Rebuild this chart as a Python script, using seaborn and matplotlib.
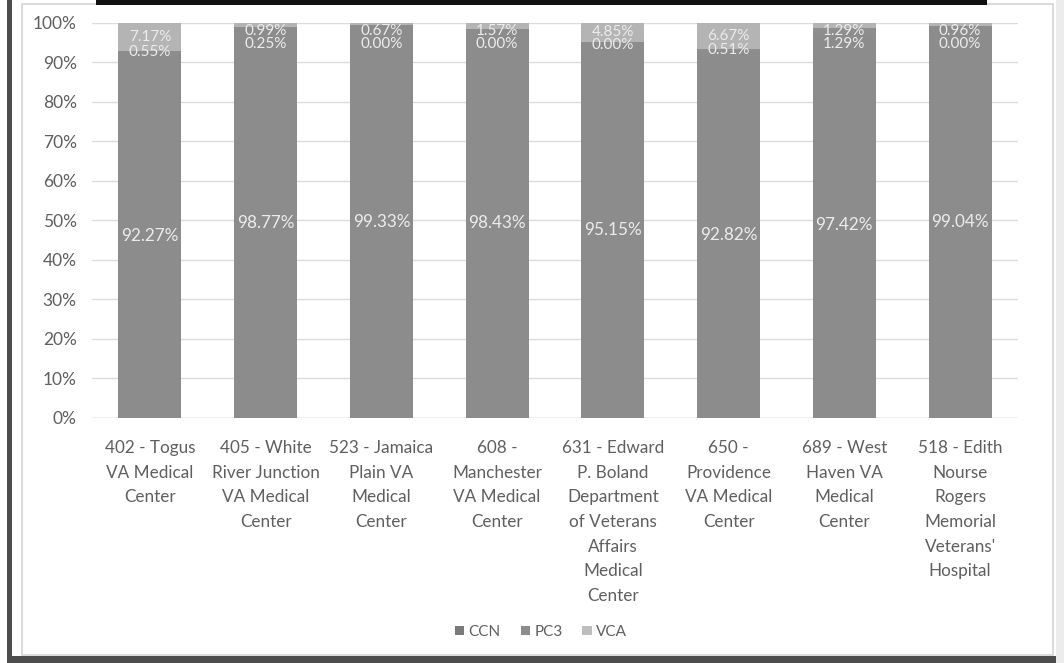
import matplotlib
matplotlib.use("Agg")
import matplotlib.pyplot as plt
from matplotlib.patches import Rectangle, Patch
import seaborn as sns
import pandas as pd
import numpy as np

categories = [
    "402 - Togus\nVA Medical\nCenter",
    "405 - White\nRiver Junction\nVA Medical\nCenter",
    "523 - Jamaica\nPlain VA\nMedical\nCenter",
    "608 -\nManchester\nVA Medical\nCenter",
    "631 - Edward\nP. Boland\nDepartment\nof Veterans\nAffairs\nMedical\nCenter",
    "650 -\nProvidence\nVA Medical\nCenter",
    "689 - West\nHaven VA\nMedical\nCenter",
    "518 - Edith\nNourse\nRogers\nMemorial\nVeterans'\nHospital",
]
ccn = [92.27, 98.77, 99.33, 98.43, 95.15, 92.82, 97.42, 99.04]
pc3 = [0.55, 0.25, 0.00, 0.00, 0.00, 0.51, 1.29, 0.00]
vca = [7.17, 0.99, 0.67, 1.57, 4.85, 6.67, 1.29, 0.96]
yticks = [0, 10, 20, 30, 40, 50, 60, 70, 80, 90, 100]

c_ccn = "#8c8c8c"
c_pc3 = "#8e8e8e"
c_vca = "#b4b4b4"
txt = "#5f5f5f"

sns.set_theme(style="white")
plt.rcParams["font.family"] = ["Lato", "DejaVu Sans"]

df = pd.DataFrame({"cat": categories, "CCN": ccn, "PC3": pc3, "VCA": vca})
df["t2"] = df["CCN"] + df["PC3"]
df["t3"] = df["t2"] + df["VCA"]

W, H = 1064, 663
fig = plt.figure(figsize=(W / 100, H / 100), dpi=100)
fig.patch.set_facecolor("white")

# frame decoration
fig.patches.append(Rectangle((22 / W, 1 - 655 / H), (1053 - 22) / W, (655 - 4) / H,
                             transform=fig.transFigure, fill=False, ec="#d4d4d4", lw=1.2))
fig.patches.append(Rectangle((7 / W, 0), 5 / W, 1, transform=fig.transFigure,
                             fc="#4d4d4d", ec="none"))
fig.patches.append(Rectangle((7 / W, 0), (1058 - 7) / W, 7 / H, transform=fig.transFigure,
                             fc="#4d4d4d", ec="none"))
fig.patches.append(Rectangle((1056 / W, 0), (W - 1056) / W, 1, transform=fig.transFigure,
                             fc="#ececec", ec="none"))
fig.patches.append(Rectangle((96 / W, 1 - 5 / H), (987 - 96) / W, 5 / H, transform=fig.transFigure,
                             fc="#111111", ec="none"))

ax = fig.add_axes([92 / W, 1 - 418 / H, (1018 - 92) / W, (418 - 22.7) / H])
ax.set_facecolor("none")

kw = dict(width=0.545, ax=ax, saturation=1, zorder=3, edgecolor="none", linewidth=0)
sns.barplot(data=df, x="cat", y="t3", color=c_vca, **kw)
sns.barplot(data=df, x="cat", y="t2", color=c_pc3, **kw)
sns.barplot(data=df, x="cat", y="CCN", color=c_ccn, **kw)

ax.set_ylim(0, 100)
ax.set_xlim(-0.5, len(categories) - 0.5)
ax.set_yticks(yticks)
ax.set_yticklabels([f"{v}%" for v in yticks], color=txt, fontsize=12.5)
ax.tick_params(axis="y", length=0, pad=11)
ax.tick_params(axis="x", length=0, pad=16)
ax.set_xticks(range(len(categories)))
ax.set_xticklabels(categories, color=txt, fontsize=12.3, linespacing=1.66)
ax.set_xlabel("")
ax.set_ylabel("")
ax.grid(axis="y", color="#dcdcdc", lw=1, zorder=0)
for s in ax.spines.values():
    s.set_visible(False)
ax.axhline(0, color="#d0d0d0", lw=1, zorder=2)

lab = "#ececec"
for i in range(len(categories)):
    ax.text(i, ccn[i] / 2, f"{ccn[i]:.2f}%", ha="center", va="center", color=lab, fontsize=12.3, zorder=5)
    yv = min(ccn[i] + pc3[i] + vca[i] / 2, 97.9)
    yp = min(ccn[i] + pc3[i] / 2, yv - 3.2)
    ax.text(i, yv, f"{vca[i]:.2f}%", ha="center", va="center", color=lab, fontsize=11, zorder=5)
    ax.text(i, yp, f"{pc3[i]:.2f}%", ha="center", va="center", color=lab, fontsize=11, zorder=5)

handles = [Patch(fc="#7a7a7a", ec="none"), Patch(fc="#8c8c8c", ec="none"), Patch(fc="#bdbdbd", ec="none")]
fig.legend(handles, ["CCN", "PC3", "VCA"], loc="center", bbox_to_anchor=(541 / W, 1 - 632 / H),
           ncol=3, frameon=False, fontsize=11, labelcolor=txt, handlelength=0.6, handleheight=0.6,
           handletextpad=0.3, columnspacing=1.3)

fig.savefig("out.png", dpi=100)
